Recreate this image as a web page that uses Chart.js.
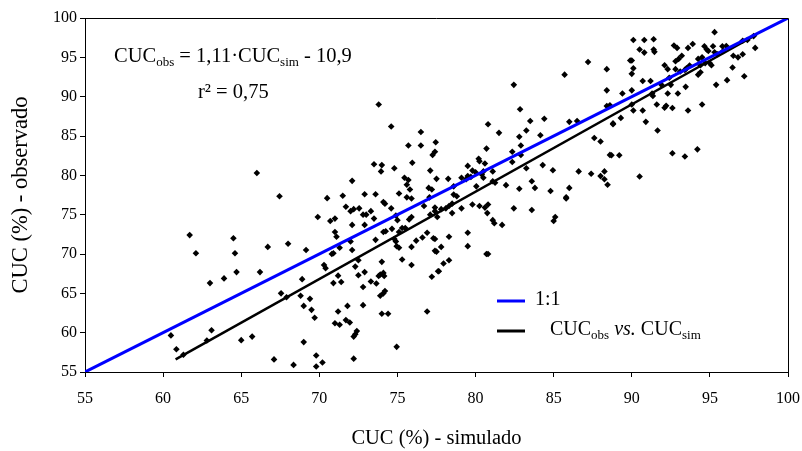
<!DOCTYPE html>
<html>
<head>
<meta charset="utf-8">
<script src="https://cdn.jsdelivr.net/npm/chart.js@4.4.0/dist/chart.umd.min.js"></script>
<style>
  html, body { margin: 0; padding: 0; background: #fff; }
</style>
</head>
<body>
<canvas id="grafico" width="802" height="451"></canvas>
<script>
// CUC simulado (eixo x) e observado (eixo y)
const simX = [
  66.0, 73.8, 74.6, 76.5, 75.7, 76.5, 77.45, 77.4, 77.25, 75.95,
  73.5, 74.0, 73.95, 74.8, 75.45, 75.7, 77.1, 72.1, 75.6, 77.0,
  77.2, 75.8, 67.45, 70.5, 71.5, 72.9, 73.6, 75.1,
  87.2, 88.4, 85.7, 82.45, 88.4, 82.85, 88.4, 88.6, 83.5, 84.4,
  80.8, 81.5, 86.0, 86.5, 83.25, 82.8, 84.15, 88.8, 82.9, 80.7,
  82.35, 82.9, 87.6, 88.0, 88.6, 80.2, 80.25, 80.6, 82.35, 79.5,
  79.8, 80.0, 79.5, 79.7, 80.5, 80.4, 80.5, 81.1, 83.25, 84.3,
  84.95, 86.6, 87.4, 88.25, 88.0, 88.25, 88.45, 77.5, 78.25, 79.1,
  79.4, 81.1, 81.25, 83.6, 83.8, 80.05, 81.95, 82.8, 84.8, 86.0,
  85.8, 78.6, 78.6, 78.8,
  95.3, 90.1, 90.8, 91.4, 90.5, 90.8, 91.4, 91.45, 92.7, 92.9,
  93.6, 93.9, 94.65, 94.8, 95.2, 95.8, 96.05, 94.9, 95.3, 95.5,
  95.85, 97.8, 97.1, 97.9, 96.5, 96.8, 97.1, 93.2, 93.0, 92.8,
  89.9, 90.0, 94.25, 94.5, 90.1, 90.0, 92.1, 92.3, 93.7, 93.5,
  93.4, 94.4, 94.7, 95.0, 95.1, 92.8, 93.1, 94.25, 94.4, 96.45,
  97.2, 96.1, 95.4, 92.4, 91.9, 92.5, 91.2, 90.7, 93.45, 90.0,
  89.4, 91.35, 91.3, 92.3, 92.95, 90.0, 91.6, 92.2, 92.1, 92.6,
  94.5, 93.6, 90.7, 90.1, 89.3, 88.8, 90.9, 91.65, 92.6, 93.4,
  94.2, 88.7, 89.2, 90.5, 97.4,
  61.7, 64.5, 62.1, 64.6, 64.7, 66.2, 63.0, 63.9, 60.5, 63.1,
  60.85, 61.3, 62.8, 65.0, 65.7,
  69.9, 70.7, 71.0, 71.7, 72.0, 72.2, 72.55, 72.8, 73.0, 72.9,
  73.3, 73.5, 72.1, 74.1, 74.2, 74.6, 74.9, 75.0, 75.6, 75.9,
  75.9, 75.75, 76.7, 77.05, 77.4, 77.1, 77.4, 71.0, 71.1, 71.3,
  72.0, 70.8, 70.9, 72.1, 73.6, 74.1, 74.25, 74.65, 74.8, 74.9,
  74.95, 75.1, 75.1, 75.3, 75.5, 76.2, 75.9, 76.6, 76.9, 77.3,
  77.4, 77.65, 77.2, 75.3, 75.9, 66.7, 68.0, 69.15, 70.3, 70.4,
  71.2, 70.9, 71.4, 72.3, 72.5, 72.5, 72.9, 72.8, 73.3, 73.65,
  73.8, 73.9, 74.1, 74.15, 74.0, 73.9, 74.1, 74.2, 68.9, 67.55,
  67.9, 68.8, 69.4, 69.5, 69.0, 69.7, 71.2, 71.8, 72.8, 74.0,
  74.4, 76.9, 71.0, 71.3, 71.7, 71.95, 72.4, 72.3, 72.2, 69.0,
  74.95, 67.1, 68.35, 69.8, 70.2, 69.8, 72.2,
  77.8, 78.1, 78.3, 78.5, 77.55, 78.5, 79.1, 79.8, 80.25, 80.6,
  80.8, 80.75, 82.45, 83.6, 85.8, 85.1, 85.0, 81.1, 81.2, 81.7,
  79.5, 79.5, 78.3, 77.4, 77.8, 77.5, 80.7, 80.8, 78.3, 77.95,
  77.6
];
const obsY = [
  80.3, 89.0, 86.2, 85.5, 83.8, 83.8, 84.2, 83.0, 82.6, 81.6,
  81.4, 81.3, 80.5, 80.9, 79.7, 79.4, 80.6, 79.3, 78.8, 78.4,
  78.2, 78.2, 77.35, 77.1, 77.4, 77.6, 77.6, 77.7,
  94.4, 93.5, 92.8, 91.5, 90.8, 88.4, 88.8, 88.9, 86.9, 87.2,
  86.5, 85.4, 86.8, 86.9, 85.7, 84.9, 85.1, 86.5, 83.8, 83.4,
  83.0, 82.6, 84.75, 84.3, 82.6, 82.1, 81.8, 81.5, 81.7, 81.2,
  80.6, 80.4, 79.9, 79.8, 80.5, 80.1, 79.7, 80.5, 80.9, 81.3,
  80.65, 80.5, 80.2, 80.5, 79.9, 79.5, 78.8, 79.55, 79.55, 79.7,
  79.5, 79.25, 79.05, 79.25, 78.4, 78.6, 78.75, 78.3, 78.0, 78.4,
  77.2, 78.6, 77.55, 77.35,
  98.2, 97.2, 97.2, 97.3, 96.0, 95.6, 96.0, 95.7, 96.5, 96.2,
  96.2, 96.7, 96.4, 96.0, 96.4, 96.4, 96.45, 95.8, 95.65, 95.4,
  95.8, 97.7, 97.1, 96.2, 95.2, 95.0, 95.4, 95.2, 94.8, 94.5,
  94.6, 94.6, 94.8, 95.0, 93.6, 92.9, 94.0, 93.5, 93.95, 93.6,
  93.4, 94.0, 94.25, 94.25, 94.0, 93.5, 93.2, 92.8, 93.1, 93.7,
  92.6, 92.1, 91.5, 92.4, 91.5, 91.5, 92.0, 92.0, 91.25, 90.8,
  90.4, 90.1, 90.4, 90.4, 90.4, 89.0, 89.0, 88.85, 88.6, 88.55,
  89.0, 88.25, 88.25, 88.25, 87.3, 86.6, 86.8, 85.7, 82.8, 82.4,
  83.3, 82.55, 82.55, 79.85, 97.2,
  72.4, 72.0, 70.1, 70.1, 67.7, 67.7, 66.3, 66.9, 59.65, 60.3,
  57.9, 57.2, 59.0, 59.05, 59.5,
  74.7, 74.2, 74.5, 76.0, 75.45, 75.7, 75.8, 75.0, 75.0, 73.7,
  75.45, 74.5, 73.7, 76.6, 76.4, 75.8, 74.9, 74.3, 77.2, 77.05,
  74.7, 74.4, 76.1, 77.2, 75.9, 75.0, 75.45, 72.8, 72.2, 70.8,
  71.6, 70.0, 70.1, 70.5, 71.8, 72.8, 72.9, 73.2, 71.9, 71.6,
  71.0, 70.8, 72.8, 73.3, 73.3, 71.7, 70.9, 72.1, 72.7, 72.0,
  70.4, 67.8, 67.1, 69.3, 68.6, 70.9, 71.3, 70.5, 68.6, 68.2,
  67.25, 66.3, 66.45, 68.4, 69.2, 67.3, 67.7, 65.8, 66.5, 66.25,
  67.2, 67.4, 67.6, 67.2, 69.0, 64.7, 65.0, 65.3, 66.8, 65.0,
  64.5, 64.7, 64.3, 62.9, 63.4, 61.9, 62.7, 63.4, 63.5, 62.4,
  62.4, 62.7, 61.2, 61.0, 61.6, 61.3, 60.2, 59.8, 59.5, 58.8,
  58.2, 56.6, 55.9, 57.1, 56.2, 55.7, 56.7,
  75.7, 75.8, 76.1, 76.4, 74.7, 75.2, 75.8, 76.3, 76.1, 75.9,
  76.3, 75.2, 75.8, 75.6, 77.05, 74.7, 74.2, 74.3, 73.9, 73.7,
  72.7, 71.0, 72.2, 71.9, 70.9, 70.3, 70.0, 70.0, 69.2, 68.8,
  67.8
];

// linha 1:1 e reta ajustada (extremos)
const linha11X = [55, 100];
const linha11Y = [55, 100];
const ajusteX = [60.8, 98.0];
const ajusteY = [56.6, 97.9];

const ticksX = [55, 60, 65, 70, 75, 80, 85, 90, 95, 100];
const ticksY = [55, 60, 65, 70, 75, 80, 85, 90, 95, 100];

const fonte = "'Liberation Serif', 'Times New Roman', serif";

function pares(xs, ys) {
  return xs.map((x, i) => ({ x: x, y: ys[i] }));
}

// Texto com subscritos / itálico
function textoRico(ctx, partes, x, y, tam) {
  const tamSub = Math.round(tam * 0.65);
  partes.forEach(p => {
    const t = p.sub ? tamSub : tam;
    ctx.font = (p.it ? 'italic ' : '') + t + 'px ' + fonte;
    ctx.fillText(p.t, x, y + (p.sub ? 4 : 0));
    x += ctx.measureText(p.t).width;
  });
}

const anotacoes = {
  id: 'anotacoes',
  afterDraw(chart) {
    const ctx = chart.ctx;
    const a = chart.chartArea;
    ctx.save();
    // moldura (topo e direita)
    ctx.strokeStyle = '#000';
    ctx.lineWidth = 1;
    ctx.beginPath();
    ctx.moveTo(a.left, a.top + 0.5);
    ctx.lineTo(a.right + 0.5, a.top + 0.5);
    ctx.lineTo(a.right + 0.5, a.bottom);
    ctx.stroke();

    ctx.fillStyle = '#000';
    ctx.textBaseline = 'alphabetic';
    ctx.textAlign = 'left';
    // equação
    textoRico(ctx, [
      { t: 'CUC' }, { t: 'obs', sub: true }, { t: ' = 1,11\u00B7CUC' },
      { t: 'sim', sub: true }, { t: ' - 10,9' }
    ], 114, 62, 20.5);
    textoRico(ctx, [{ t: 'r\u00B2 = 0,75' }], 198, 98, 20.5);

    // legenda
    ctx.lineWidth = 3;
    ctx.strokeStyle = '#0000ff';
    ctx.beginPath(); ctx.moveTo(497, 301); ctx.lineTo(525, 301); ctx.stroke();
    ctx.strokeStyle = '#000';
    ctx.beginPath(); ctx.moveTo(497, 331); ctx.lineTo(525, 331); ctx.stroke();
    textoRico(ctx, [{ t: '1:1' }], 535, 305, 20);
    textoRico(ctx, [
      { t: 'CUC' }, { t: 'obs', sub: true }, { t: ' ' }, { t: 'vs.', it: true },
      { t: ' CUC' }, { t: 'sim', sub: true }
    ], 550, 335, 20);
    ctx.restore();
  }
};

new Chart(document.getElementById('grafico'), {
  type: 'scatter',
  data: {
    datasets: [
      {
        label: '1:1',
        data: pares(linha11X, linha11Y),
        showLine: true,
        borderColor: '#0000ff',
        borderWidth: 3,
        pointRadius: 0,
        order: 0
      },
      {
        label: 'ajuste',
        data: pares(ajusteX, ajusteY),
        showLine: true,
        borderColor: '#000',
        borderWidth: 2.5,
        pointRadius: 0,
        order: 0
      },
      {
        label: 'pontos',
        data: pares(simX, obsY),
        pointStyle: 'rectRot',
        pointRadius: 3.3,
        backgroundColor: '#000',
        borderColor: '#000',
        borderWidth: 0,
        order: 1
      }
    ]
  },
  options: {
    responsive: false,
    animation: false,
    layout: { padding: { left: 0, right: 14, top: 18, bottom: 0 } },
    plugins: { legend: { display: false }, tooltip: { enabled: false } },
    scales: {
      x: {
        type: 'linear', min: 55, max: 100,
        afterBuildTicks: s => { s.ticks = ticksX.map(v => ({ value: v })); },
        afterFit: s => { s.height = 451 - 372; s.paddingLeft = 0; s.paddingRight = 0; },
        grid: { drawOnChartArea: false, tickLength: 5, color: '#000' },
        border: { color: '#000', width: 1 },
        ticks: { color: '#000', font: { family: fonte, size: 16 }, padding: 12, maxRotation: 0 },
        title: { display: true, text: 'CUC (%) - simulado', color: '#000',
                 font: { family: fonte, size: 20.5 }, padding: { top: 0, bottom: 0 } }
      },
      y: {
        type: 'linear', min: 55, max: 100,
        afterBuildTicks: s => { s.ticks = ticksY.map(v => ({ value: v })); },
        afterFit: s => { s.width = 85; },
        grid: { drawOnChartArea: false, tickLength: 5, color: '#000' },
        border: { color: '#000', width: 1 },
        ticks: { color: '#000', font: { family: fonte, size: 16 }, padding: 3 },
        title: { display: true, text: 'CUC (%) - observado', color: '#000',
                 font: { family: fonte, size: 22.5 }, padding: { top: 8, bottom: 0 } }
      }
    }
  },
  plugins: [anotacoes]
});
</script>
</body>
</html>
